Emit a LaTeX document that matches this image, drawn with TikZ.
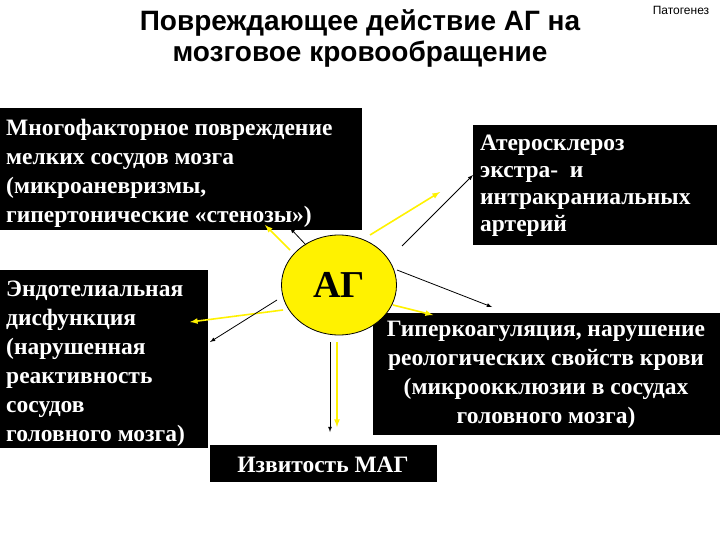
\documentclass[tikz,border=0pt]{standalone}
\usepackage{fontspec}
\usetikzlibrary{shapes.geometric}
\setmainfont{Liberation Serif}
\newfontfamily\ttl{Liberation Sans}
\begin{document}
\begin{tikzpicture}[x=1pt,y=-1pt,
 bx/.style={fill=black,text=white,inner sep=0pt,font=\bfseries\fontsize{23.5}{29}\selectfont},
 bl/.style={black,thick,-latex},
 yl/.style={yellow,line width=1.6pt,-latex}]
\useasboundingbox[fill=white] (0,0) rectangle (720,540);
\node[font=\ttl\bfseries\fontsize{28}{31}\selectfont,align=center] (title) at (360,38) {Повреждающее действие АГ на\\мозговое кровообращение};
\node[font=\ttl\fontsize{12}{14}\selectfont] (pat) at (681,10) {Патогенез};
\fill (0,108) rectangle (362,230);
\node[bx,align=left,anchor=north west] (tl) at (6,119) {Многофакторное повреждение\\мелких сосудов мозга\\(микроаневризмы,\\гипертонические «стенозы»)};
\fill (473,125) rectangle (717,245);
\node[bx,align=left,anchor=north west,font=\bfseries\fontsize{23.5}{27}\selectfont] (tr) at (480,135) {Атеросклероз\\экстра-\ \ и\\интракраниальных\\артерий};
\fill (0,270) rectangle (208,448);
\node[bx,align=left,anchor=north west] (l) at (6,281) {Эндотелиальная\\дисфункция\\(нарушенная\\реактивность\\сосудов\\головного мозга)};
\fill (373,313) rectangle (720,435);
\node[bx,align=center] (r) at (546,375) {Гиперкоагуляция, нарушение\\реологических свойств крови\\(микроокклюзии в сосудах\\головного мозга)};
\fill (210,445) rectangle (437,482);
\node[bx] (b) at (323,465) {Извитость МАГ};
\node[draw,thick,fill=yellow,ellipse,minimum width=115pt,minimum height=100pt,inner sep=0pt,font=\bfseries\fontsize{38}{40}\selectfont] (ag) at (339,285) {АГ};
\coordinate (t1) at (290,228);
\coordinate (t2) at (265,225);
\coordinate (t3) at (440,192);
\coordinate (t4) at (473,175);
\coordinate (t5) at (492,307);
\coordinate (t6) at (433,315);
\coordinate (t7) at (330,432);
\coordinate (t8) at (337,427);
\coordinate (t9) at (190,322);
\coordinate (t10) at (210,342);
\draw[bl] (306,245) -- (t1);
\draw[yl] (290,250) -- (t2);
\draw[yl] (370,235) -- (t3);
\draw[bl] (402,246) -- (t4);
\draw[bl] (397,270) -- (t5);
\draw[yl] (393,305) -- (t6);
\draw[bl] (330,342) -- (t7);
\draw[yl] (337,342) -- (t8);
\draw[yl] (283,310) -- (t9);
\draw[bl] (277,300) -- (t10);
\end{tikzpicture}
\end{document}
